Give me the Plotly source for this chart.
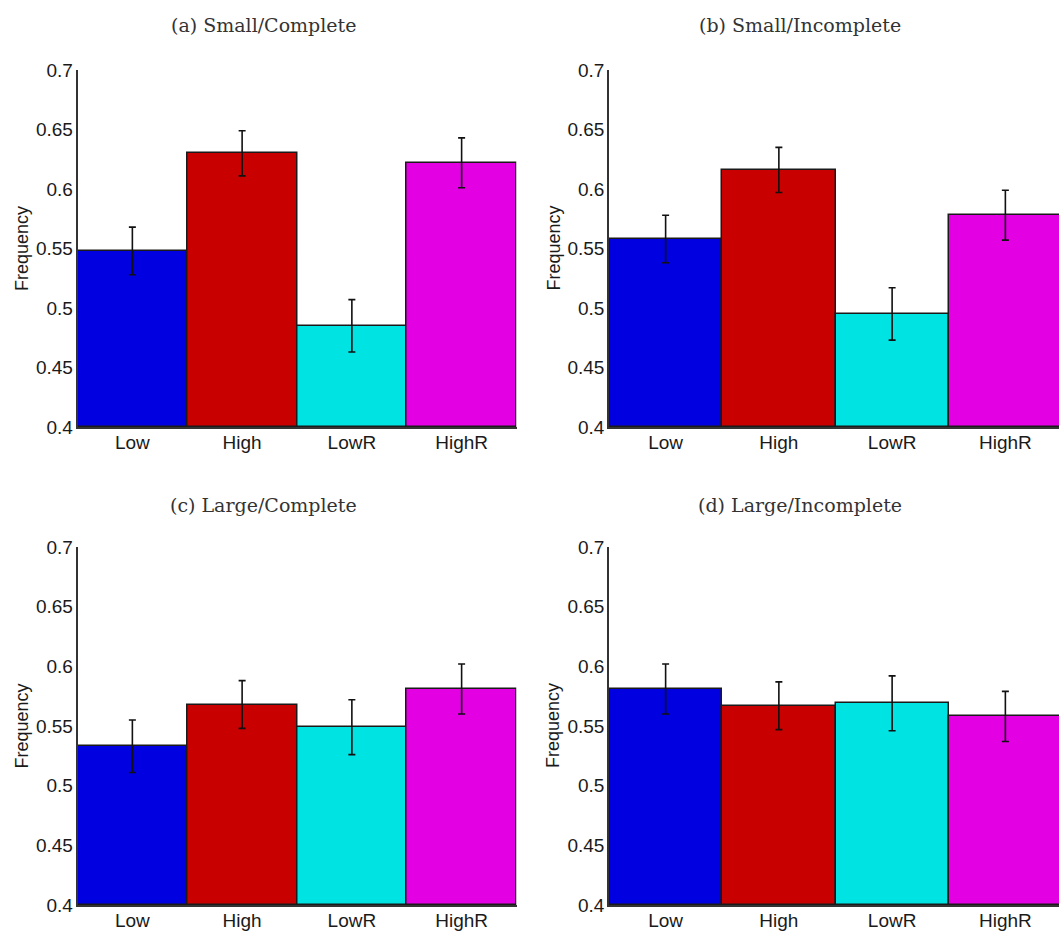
import plotly.graph_objects as go

# Condition labels and bar colours
categories = ["Low", "High", "LowR", "HighR"]
bar_colors = ["#0000E0", "#C80000", "#00E3E3", "#E300E3"]

panel_titles = [
    "(a) Small/Complete",
    "(b) Small/Incomplete",
    "(c) Large/Complete",
    "(d) Large/Incomplete",
]

# Mean frequency per condition, one list per panel
small_complete = [0.548, 0.630, 0.485, 0.622]
small_incomplete = [0.558, 0.616, 0.495, 0.578]
large_complete = [0.533, 0.568, 0.549, 0.581]
large_incomplete = [0.581, 0.567, 0.569, 0.558]

# Half-width of the error bars
small_complete_err = [0.020, 0.019, 0.022, 0.021]
small_incomplete_err = [0.020, 0.019, 0.022, 0.021]
large_complete_err = [0.022, 0.020, 0.023, 0.021]
large_incomplete_err = [0.021, 0.020, 0.023, 0.021]

y_ticks = [0.4, 0.45, 0.5, 0.55, 0.6, 0.65, 0.7]
y_tick_text = ["0.4", "0.45", "0.5", "0.55", "0.6", "0.65", "0.7"]

W, H = 1059, 934

panels = [
    (small_complete, small_complete_err),
    (small_incomplete, small_incomplete_err),
    (large_complete, large_complete_err),
    (large_incomplete, large_incomplete_err),
]

# Pixel boxes of the four plot areas: (left, right, top, bottom)
boxes = [
    (77.5, 516.5, 70, 427),
    (609, 1062, 70, 427),
    (77.5, 516.5, 547, 905),
    (609, 1062, 547, 905),
]
title_pos = [(263, 25), (800, 25), (263, 505), (800, 505)]

fig = go.Figure()
layout = dict(
    width=W,
    height=H,
    margin=dict(l=0, r=0, t=0, b=0, autoexpand=False),
    paper_bgcolor="white",
    plot_bgcolor="white",
    showlegend=False,
    bargap=0,
    annotations=[],
)

for i, ((vals, errs), (l, r, t, b)) in enumerate(zip(panels, boxes)):
    n = "" if i == 0 else str(i + 1)
    fig.add_trace(go.Bar(
        x=categories,
        y=[v - 0.4 for v in vals],
        base=0.4,
        marker=dict(color=bar_colors, line=dict(color="#1a1a1a", width=1.5)),
        error_y=dict(type="data", array=errs, visible=True,
                     color="#111111", thickness=1.6, width=3.5),
        xaxis="x" + n,
        yaxis="y" + n,
        hoverinfo="skip",
    ))
    # the right-hand panels run off the page edge, so clip the last bar
    x_hi = 3.5 if r <= W else 3.5 - (r - W) / ((r - l) / 4.0)
    layout["xaxis" + n] = dict(
        domain=[l / W, min(r, W) / W],
        anchor="y" + n,
        range=[-0.5, x_hi],
        automargin=False,
        showgrid=False,
        zeroline=False,
        showline=True,
        linecolor="#333333",
        linewidth=1.5,
        ticks="",
        ticklabelstandoff=-3,
        tickfont=dict(family="Liberation Sans, Arial", size=19, color="#1a1a1a"),
        fixedrange=True,
    )
    layout["yaxis" + n] = dict(
        domain=[1 - b / H, 1 - t / H],
        anchor="x" + n,
        range=[0.4, 0.7],
        tickvals=y_ticks,
        ticktext=y_tick_text,
        automargin=False,
        showgrid=False,
        zeroline=False,
        showline=True,
        linecolor="#333333",
        linewidth=1.5,
        ticks="",
        ticklabelstandoff=-1,
        tickfont=dict(family="Liberation Sans, Arial", size=19, color="#1a1a1a"),
        fixedrange=True,
    )
    tx, ty = title_pos[i]
    layout["annotations"].append(dict(
        text=panel_titles[i], xref="paper", yref="paper",
        x=tx / W, y=1 - ty / H, xanchor="center", yanchor="middle",
        showarrow=False,
        font=dict(family="DejaVu Serif", size=19, color="#333333"),
    ))
    layout["annotations"].append(dict(
        text="Frequency", xref="paper", yref="paper",
        x=(l - 56) / W, y=1 - (t + b) / 2 / H, xanchor="center", yanchor="middle",
        textangle=-90, showarrow=False,
        font=dict(family="Liberation Sans, Arial", size=18, color="#1a1a1a"),
    ))

fig.update_layout(**layout)
fig.write_html("out.html")
